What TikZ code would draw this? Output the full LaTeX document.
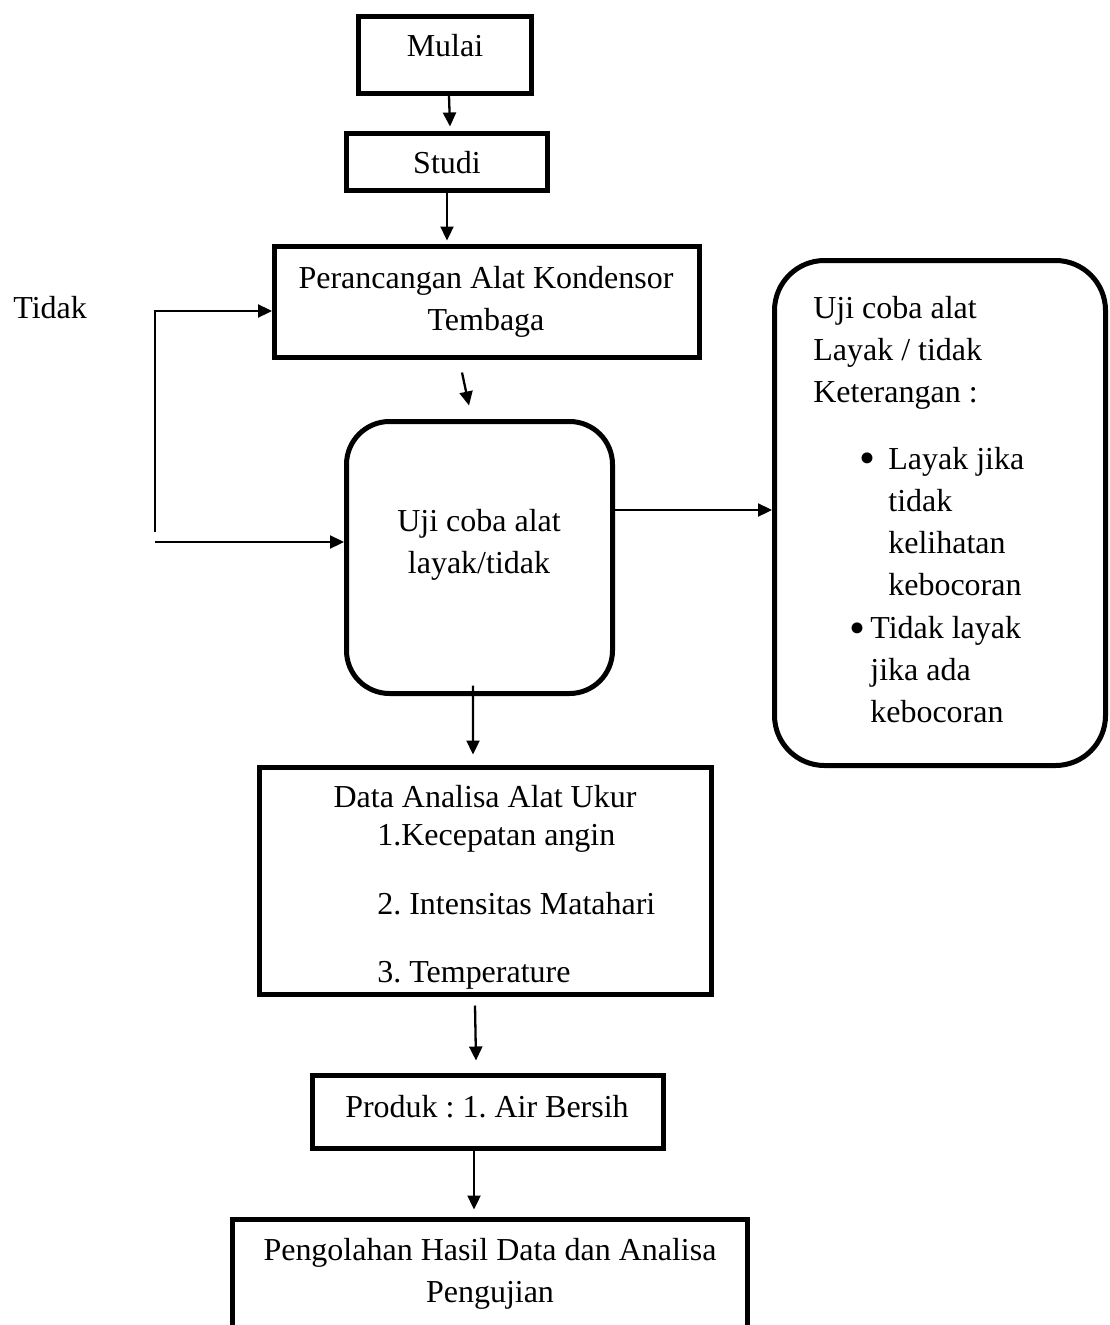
\documentclass[tikz,border=0pt]{standalone}
\usepackage{fontspec}
\setmainfont{Liberation Serif}
\usetikzlibrary{arrows.meta}
\frenchspacing

\tikzset{
  box/.style={draw, line width=0.1cm, inner sep=0pt},
  txt/.style={anchor=base, align=center, inner sep=0pt},
  ltxt/.style={anchor=base west, align=left, inner sep=0pt},
  bullet/.style={inner sep=0pt, font=\fontsize{26}{26}\selectfont},
  arrowline/.style={line width=0.046cm},
}

\begin{document}
\begin{tikzpicture}[>={Triangle[length=0.28cm,width=0.26cm]}, font=\fontsize{18.2}{23.9}\selectfont]
    \useasboundingbox (0,0) rectangle (22.2,-26.5);
    \clip (0,0) rectangle (22.2,-26.5);

    % boxes
    \node[box, minimum width=3.46cm, minimum height=1.54cm] (mulai) at (8.90,-1.10) {};
    \node[box, minimum width=4.02cm, minimum height=1.14cm] (studi) at (8.94,-3.24) {};
    \node[box, minimum width=8.50cm, minimum height=2.22cm] (peranc) at (9.74,-6.04) {};
    \node[box, rounded corners=0.86cm, minimum width=5.32cm, minimum height=5.44cm] (uji) at (9.59,-11.15) {};
    \node[box, rounded corners=1cm, minimum width=6.62cm, minimum height=10.10cm] (ket) at (18.80,-10.26) {};
    \node[box, minimum width=9.04cm, minimum height=4.54cm] (data) at (9.71,-17.62) {};
    \node[box, minimum width=7.02cm, minimum height=1.46cm] (produk) at (9.76,-22.24) {};
    \node[box, minimum width=10.30cm, minimum height=3.00cm] (olah) at (9.80,-25.89) {};

    % texts (multi-line nodes sit on their last line)
    \node[txt] (mulaitxt) at (8.90,-1.14) {Mulai};
    \node[txt] (studitxt) at (8.94,-3.46) {Studi};
    \node[txt] (peranctxt) at (9.72,-6.60) {Perancangan Alat Kondensor\\Tembaga};
    \node[txt] (ujitxt) at (9.58,-11.46) {Uji coba alat\\layak/tidak};
    \node[ltxt] (kettxt) at (16.26,-8.04) {Uji coba alat\\Layak / tidak\\Keterangan :};
    \node[bullet] (bulsatu) at (17.34,-9.26) {\textbullet};
    \node[ltxt] (layak) at (17.76,-11.90) {Layak jika\\tidak\\kelihatan\\kebocoran};
    \node[bullet] (buldua) at (17.14,-12.66) {\textbullet};
    \node[ltxt] (tdklayak) at (17.40,-14.44) {Tidak layak\\jika ada\\kebocoran};
    \node[txt] (datatxt) at (9.70,-16.14) {Data Analisa Alat Ukur};
    \node[ltxt] (ukur) at (7.54,-19.64) {1.Kecepatan angin\\[0.54cm]2. Intensitas Matahari\\[0.52cm]3. Temperature};
    \node[txt] (produktxt) at (9.74,-22.34) {Produk : 1. Air Bersih};
    \node[txt] (olahtxt) at (9.80,-26.04) {Pengolahan Hasil Data dan Analisa\\Pengujian};
    \node[ltxt] (tidak) at (0.26,-6.36) {Tidak};

    % connectors
    \coordinate (looptop) at (3.10,-6.22);
    \coordinate (loopbot) at (3.10,-10.64);
    \coordinate (loopin) at (3.10,-10.84);

    \draw[arrowline, ->] ([xshift=0.08cm]mulai.south) -- ([xshift=0.06cm,yshift=0.09cm]studi.north);
    \draw[arrowline, ->] (studi.south) -- ([yshift=0.07cm]studi.south |- peranc.north);
    \draw[arrowline, ->] ([xshift=-0.50cm,yshift=-0.25cm]peranc.south) -- ([xshift=-0.21cm,yshift=0.27cm]uji.north);
    \draw[arrowline, ->] ([xshift=-0.13cm,yshift=0.21cm]uji.south) -- ([xshift=-0.25cm,yshift=0.21cm]data.north);
    \draw[arrowline, ->] ([xshift=-0.21cm,yshift=-0.17cm]data.south) -- ([xshift=-0.24cm,yshift=0.25cm]produk.north);
    \draw[arrowline, ->] ([xshift=-0.28cm]produk.south) -- ([xshift=-0.32cm,yshift=0.15cm]olah.north);
    \draw[arrowline, ->] (loopbot) -- (looptop) -- (looptop -| peranc.west);
    \draw[arrowline, ->] (loopin) -- (loopin -| uji.west);
    \draw[arrowline, ->] ([xshift=-0.09cm,yshift=0.95cm]uji.east) -- ([yshift=0.95cm]uji.east -| ket.west);
\end{tikzpicture}
\end{document}
